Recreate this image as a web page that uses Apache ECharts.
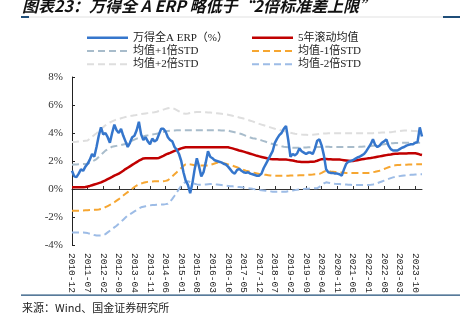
<!DOCTYPE html>
<html>
<head>
<meta charset="utf-8">
<script src="https://cdn.jsdelivr.net/npm/echarts@6/dist/echarts.min.js"></script>
<style>html,body{margin:0;padding:0;background:#fff;}#c{width:460px;height:325px;}</style>
</head>
<body>
<div id="c"></div>
<script>
// Monthly categories, 2010-12 .. 2024-01
var startYear = 2010, startMonth = 12, monthCount = 158;
var categories = [];
for (var i = 0; i < monthCount; i++) {
  var mm = startMonth - 1 + i;
  var y = startYear + Math.floor(mm / 12);
  var mo = (mm % 12) + 1;
  categories.push(y + '-' + (mo < 10 ? '0' + mo : '' + mo));
}
var yTicks = [-4, -2, 0, 2, 4, 6, 8];

var erp = [
1.3,0.9,0.85,1.1,1.4,1.3,1.6,1.8,2.1,2.5,
2.3,3.0,3.8,4.4,3.9,4.0,3.7,3.3,4.0,4.6,
4.2,4.0,4.3,3.8,3.4,3.0,3.3,3.7,3.8,4.2,
4.8,3.9,3.5,3.7,3.4,3.2,3.6,3.4,3.5,3.9,
4.3,4.3,4.1,3.7,3.5,3.4,3.0,2.8,2.5,2.0,
1.2,0.6,0.3,-0.3,0.4,1.4,2.2,1.6,0.9,1.2,
1.9,2.7,2.3,2.2,2.05,2.0,1.95,1.9,1.8,1.75,
1.6,1.4,1.2,1.1,1.35,1.45,1.3,1.2,1.15,1.2,
1.1,1.05,1.0,0.95,0.95,1.1,1.5,1.8,2.1,2.4,
2.7,3.3,3.6,3.85,4.0,4.3,4.5,3.5,2.3,2.5,
2.4,2.55,2.9,2.7,2.6,2.5,2.6,2.6,2.5,2.9,
3.45,3.55,3.1,2.4,1.4,1.2,1.15,1.15,1.1,1.1,
1.05,0.95,1.4,1.8,1.95,2.0,2.05,2.15,2.25,2.3,
2.4,2.5,2.7,2.95,3.2,3.55,3.15,3.0,3.1,3.3,
3.4,3.55,3.1,2.85,2.75,2.75,2.75,2.85,2.95,3.0,
3.1,3.15,3.2,3.2,3.3,3.35,4.4,3.75];

var mean5y = [
0.12,0.12,0.12,0.12,0.12,0.13,0.15,0.18,0.22,0.27,
0.32,0.37,0.42,0.47,0.55,0.62,0.7,0.78,0.86,0.95,
1.02,1.1,1.2,1.3,1.42,1.52,1.62,1.72,1.82,1.92,
2.02,2.1,2.18,2.2,2.2,2.2,2.2,2.2,2.2,2.22,
2.3,2.37,2.45,2.52,2.58,2.65,2.72,2.78,2.84,2.9,
2.95,2.98,2.98,2.98,2.98,2.98,2.98,2.98,2.98,2.98,
2.98,2.98,2.98,2.98,2.98,2.98,2.98,2.98,2.98,2.98,
2.98,2.94,2.9,2.85,2.8,2.75,2.71,2.67,2.62,2.57,
2.52,2.47,2.42,2.37,2.33,2.29,2.25,2.21,2.17,2.14,
2.13,2.12,2.12,2.11,2.11,2.1,2.1,2.08,2.06,2.04,
2.0,1.97,1.95,1.93,1.92,1.92,1.93,1.94,1.95,1.97,
2.02,2.08,2.13,2.14,2.14,2.13,2.12,2.11,2.1,2.1,
2.1,2.08,2.06,2.04,2.02,2.0,2.0,2.03,2.06,2.09,
2.12,2.15,2.17,2.19,2.21,2.24,2.27,2.3,2.33,2.36,
2.39,2.42,2.45,2.47,2.5,2.51,2.52,2.53,2.53,2.54,
2.54,2.55,2.55,2.55,2.55,2.52,2.47,2.43];

var plus1 = [
1.74,1.75,1.75,1.76,1.77,1.78,1.79,1.8,1.88,1.97,
2.05,2.14,2.29,2.44,2.59,2.74,2.84,2.93,3.02,3.05,
3.08,3.11,3.14,3.18,3.21,3.29,3.37,3.45,3.53,3.6,
3.65,3.7,3.75,3.8,3.83,3.86,3.89,3.92,3.95,3.98,
4.03,4.07,4.11,4.15,4.17,4.18,4.18,4.19,4.19,4.2,
4.2,4.2,4.2,4.2,4.2,4.2,4.2,4.2,4.2,4.2,
4.2,4.2,4.2,4.2,4.2,4.19,4.19,4.18,4.18,4.17,
4.17,4.13,4.09,4.05,4.01,3.97,3.93,3.87,3.8,3.74,
3.68,3.63,3.6,3.57,3.52,3.47,3.42,3.37,3.31,3.26,
3.21,3.17,3.13,3.09,3.05,3.02,3.0,2.98,2.96,2.95,
2.94,2.94,2.94,2.95,2.96,2.97,2.98,2.99,3.0,3.0,
3.0,3.0,3.01,3.02,3.02,3.01,3.0,3.0,3.0,3.0,
3.0,3.0,3.0,3.0,3.0,3.0,3.0,3.0,3.0,3.01,
3.02,3.03,3.04,3.05,3.07,3.09,3.11,3.13,3.15,3.17,
3.19,3.21,3.23,3.26,3.27,3.28,3.29,3.29,3.3,3.3,
3.31,3.31,3.31,3.31,3.31,3.31,3.31,3.31];

var minus1 = [
-1.55,-1.55,-1.55,-1.55,-1.54,-1.53,-1.52,-1.51,-1.5,-1.5,
-1.49,-1.48,-1.46,-1.43,-1.38,-1.3,-1.22,-1.14,-1.06,-0.95,
-0.83,-0.72,-0.6,-0.47,-0.34,-0.22,-0.1,0.02,0.14,0.25,
0.33,0.39,0.44,0.48,0.51,0.53,0.54,0.55,0.55,0.55,
0.55,0.56,0.58,0.63,0.75,0.9,1.05,1.2,1.35,1.5,
1.65,1.77,1.78,1.76,1.73,1.7,1.68,1.67,1.67,1.67,
1.67,1.68,1.72,1.77,1.82,1.87,1.9,1.88,1.84,1.8,
1.76,1.72,1.67,1.61,1.55,1.49,1.43,1.37,1.31,1.27,
1.23,1.19,1.15,1.11,1.07,1.05,1.03,1.01,0.99,0.97,
0.95,0.95,0.95,0.95,0.95,0.95,0.95,0.95,0.96,0.96,
0.97,0.97,0.98,0.99,0.99,1.0,1.01,1.02,1.03,1.05,
1.06,1.08,1.15,1.24,1.3,1.28,1.25,1.23,1.21,1.19,
1.18,1.17,1.16,1.15,1.15,1.14,1.14,1.14,1.14,1.14,
1.14,1.14,1.14,1.15,1.17,1.2,1.23,1.27,1.31,1.37,
1.43,1.49,1.55,1.61,1.67,1.69,1.71,1.72,1.73,1.74,
1.74,1.75,1.75,1.75,1.76,1.76,1.76,1.76];

var plus2 = [
3.35,3.36,3.37,3.39,3.41,3.43,3.45,3.47,3.6,3.73,
3.86,3.98,4.12,4.27,4.42,4.55,4.65,4.75,4.83,4.9,
4.96,5.0,5.05,5.1,5.14,5.18,5.21,5.24,5.26,5.29,
5.32,5.35,5.38,5.4,5.42,5.44,5.46,5.48,5.52,5.57,
5.62,5.67,5.72,5.77,5.8,5.78,5.72,5.64,5.55,5.46,
5.4,5.38,5.4,5.43,5.46,5.48,5.5,5.5,5.5,5.49,
5.48,5.47,5.46,5.45,5.43,5.41,5.39,5.37,5.35,5.33,
5.31,5.27,5.23,5.19,5.15,5.11,5.07,5.03,4.98,4.93,
4.88,4.83,4.77,4.71,4.65,4.6,4.55,4.5,4.45,4.4,
4.35,4.3,4.26,4.22,4.18,4.14,4.1,4.06,4.02,3.98,
3.95,3.93,3.91,3.89,3.88,3.87,3.86,3.86,3.87,3.89,
3.91,3.93,3.95,3.96,3.97,3.98,3.98,3.98,3.98,3.98,
3.98,3.98,3.98,3.98,3.98,3.98,3.98,3.98,3.98,3.98,
3.98,3.98,3.98,3.98,3.98,3.99,4.0,4.01,4.02,4.03,
4.04,4.05,4.05,4.06,4.08,4.1,4.12,4.14,4.16,4.17,
4.17,4.17,4.16,4.15,4.14,4.12,4.11,4.1];

var minus2 = [
-3.1,-3.1,-3.1,-3.1,-3.1,-3.1,-3.12,-3.15,-3.2,-3.25,
-3.29,-3.32,-3.33,-3.33,-3.3,-3.22,-3.1,-2.98,-2.86,-2.74,
-2.62,-2.48,-2.34,-2.19,-2.04,-1.9,-1.8,-1.7,-1.6,-1.5,
-1.4,-1.31,-1.27,-1.23,-1.2,-1.17,-1.15,-1.14,-1.13,-1.12,
-1.11,-1.1,-1.08,-1.05,-0.9,-0.7,-0.48,-0.24,0.0,0.24,
0.4,0.5,0.55,0.5,0.44,0.38,0.33,0.31,0.31,0.32,
0.33,0.34,0.35,0.36,0.34,0.32,0.3,0.28,0.26,0.24,
0.22,0.2,0.19,0.17,0.15,0.14,0.12,0.1,0.07,0.05,
0.03,0.01,-0.02,-0.05,-0.07,-0.09,-0.11,-0.13,-0.15,-0.17,
-0.19,-0.19,-0.19,-0.19,-0.19,-0.19,-0.19,-0.16,-0.13,-0.11,
-0.08,-0.05,-0.03,0.0,0.0,0.01,0.02,0.03,0.04,0.05,
0.06,0.15,0.28,0.4,0.48,0.45,0.42,0.39,0.37,0.36,
0.35,0.34,0.33,0.32,0.31,0.3,0.29,0.29,0.29,0.29,
0.29,0.29,0.29,0.29,0.3,0.32,0.36,0.42,0.48,0.54,
0.6,0.66,0.72,0.78,0.83,0.86,0.89,0.92,0.94,0.96,
0.98,1.0,1.01,1.02,1.03,1.04,1.05,1.05];

var names = ['万得全A ERP（%）', '5年滚动均值', '均值+1倍STD', '均值-1倍STD', '均值+2倍STD', '均值-2倍STD'];
var colors = ['#3576cc', '#c00000', '#a8bccb', '#f6a631', '#dedede', '#9dbce6'];
var dashedFlags = [false, false, true, true, true, true];
var titleText = '图表23：万得全 A ERP 略低于“2倍标准差上限”';
var sourceText = '来源：Wind、国金证券研究所';

var serif = "'Liberation Serif','Noto Sans CJK SC',serif";
var chart = echarts.init(document.getElementById('c'), null, {renderer: 'canvas'});

function lineSeries(idx, data, width, z) {
  return {name: names[idx], type: 'line', data: data, symbol: 'none', showSymbol: false,
    lineStyle: {color: colors[idx], width: width, type: dashedFlags[idx] ? [7, 4] : 'solid'},
    itemStyle: {color: colors[idx]}, z: z};
}

// Hand-built legend (line samples + labels), two columns of three rows
var graphics = [];
var colX = [87, 252], rowY = [37.7, 51, 64.3];
for (var k = 0; k < names.length; k++) {
  var cx = colX[k % 2], cy = rowY[Math.floor(k / 2)];
  graphics.push({type: 'line', shape: {x1: cx, y1: cy, x2: cx + 41, y2: cy},
    style: {stroke: colors[k], lineWidth: dashedFlags[k] ? 2 : 2.5, lineDash: dashedFlags[k] ? [7, 4] : null}});
  graphics.push({type: 'text', x: cx + 46, y: cy, style: {text: names[k], fontSize: 11,
    fontFamily: serif, fill: '#222', textVerticalAlign: 'middle', verticalAlign: 'middle'}});
}
graphics.push(
  {type: 'text', x: 22, y: -2.5, style: {text: titleText, fontSize: 16, fontWeight: 'bold',
    fontStyle: 'italic', fontFamily: "'Noto Sans CJK SC',sans-serif", fill: '#111'}},
  {type: 'rect', shape: {x: 21, y: 16.5, width: 439, height: 1}, style: {fill: '#e2e2e2'}},
  {type: 'rect', shape: {x: 21, y: 16, width: 8, height: 2}, style: {fill: '#1f4e79'}},
  {type: 'rect', shape: {x: 443, y: 16, width: 17, height: 2}, style: {fill: '#1f4e79'}},
  {type: 'rect', shape: {x: 21, y: 294.5, width: 439, height: 1.2}, style: {fill: '#1f4e79'}},
  {type: 'text', x: 22, y: 302, style: {text: sourceText, fontSize: 11,
    fontFamily: "'Noto Sans CJK SC',sans-serif", fill: '#222'}}
);

chart.setOption({
  animation: false,
  backgroundColor: '#fff',
  grid: {left: 72, right: 38, top: 77, bottom: 80, containLabel: false},
  xAxis: [
    {type: 'category', data: categories, boundaryGap: false, position: 'bottom',
     axisLine: {show: false, onZero: false}, axisTick: {show: false},
     axisLabel: {interval: 6, rotate: -90, margin: 8, fontSize: 9.5,
       fontFamily: "'Liberation Mono',monospace", color: '#222'},
     splitLine: {show: false}},
    {type: 'category', data: categories, boundaryGap: false, position: 'bottom',
     axisLine: {show: true, onZero: true, lineStyle: {color: '#333', width: 1}},
     axisTick: {show: true, inside: true, length: 3, interval: 6, lineStyle: {color: '#333'}},
     axisLabel: {show: false}, splitLine: {show: false}}
  ],
  yAxis: {type: 'value', min: yTicks[0], max: yTicks[yTicks.length - 1], interval: 2,
    axisLine: {show: true, lineStyle: {color: '#222', width: 1}},
    axisTick: {show: true, inside: true, length: 3, lineStyle: {color: '#222'}},
    axisLabel: {formatter: '{value}%', fontSize: 11, fontFamily: serif, color: '#333', margin: 9},
    splitLine: {show: false}},
  series: [
    lineSeries(4, plus2, 2, 2),
    lineSeries(5, minus2, 2, 2),
    lineSeries(2, plus1, 2, 2),
    lineSeries(3, minus1, 2, 2),
    lineSeries(1, mean5y, 2.5, 3),
    lineSeries(0, erp, 2.5, 4)
  ],
  graphic: graphics
});
</script>
</body>
</html>
